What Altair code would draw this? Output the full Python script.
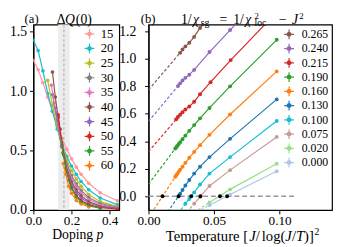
import altair as alt
import pandas as pd

FONT = "Liberation Serif"

# ---------------- Panel (a): Delta Q(0) vs doping p ----------------
SIZES_A = ["15", "20", "25", "30", "35", "40", "45", "50", "55", "60"]
COLORS_A = ["#ff9896", "#17becf", "#bcbd22", "#7f7f7f", "#e377c2",
            "#8c564b", "#9467bd", "#d62728", "#2ca02c", "#ff7f0e"]

P_15 = [0.0, 0.025, 0.05, 0.075, 0.1, 0.125, 0.15, 0.175, 0.2, 0.225, 0.25, 0.29, 0.35, 0.44]
Q_15 = [1.26, 1.18, 1.07, 0.95, 0.83, 0.71, 0.60, 0.51, 0.43, 0.36, 0.30, 0.225, 0.145, 0.077]
P_20 = [0.0, 0.025, 0.05, 0.075, 0.1, 0.125, 0.15, 0.175, 0.2, 0.225, 0.25, 0.29, 0.35, 0.44]
Q_20 = [1.43, 1.34, 1.17, 0.98, 0.83, 0.68, 0.55, 0.45, 0.37, 0.30, 0.24, 0.17, 0.10, 0.045]
P_25 = [0.075, 0.1, 0.125, 0.15, 0.175, 0.2, 0.225, 0.25, 0.29, 0.35, 0.44]
Q_25 = [1.09, 0.88, 0.70, 0.54, 0.42, 0.33, 0.26, 0.20, 0.13, 0.07, 0.03]
P_30 = [0.1, 0.125, 0.15, 0.175, 0.2, 0.225, 0.25, 0.29, 0.35, 0.44]
Q_30 = [0.97, 0.74, 0.53, 0.39, 0.29, 0.22, 0.165, 0.105, 0.055, 0.022]
P_35 = [0.094, 0.11, 0.125, 0.15, 0.175, 0.2, 0.225, 0.25, 0.29, 0.35, 0.44]
Q_35 = [1.05, 0.90, 0.76, 0.53, 0.37, 0.27, 0.20, 0.145, 0.09, 0.045, 0.018]
P_40 = [0.1, 0.115, 0.13, 0.15, 0.175, 0.2, 0.225, 0.25, 0.29, 0.35, 0.44]
Q_40 = [1.16, 0.95, 0.78, 0.54, 0.35, 0.24, 0.17, 0.12, 0.07, 0.033, 0.013]
P_45 = [0.115, 0.13, 0.15, 0.175, 0.2, 0.225, 0.25, 0.29, 0.35, 0.44]
Q_45 = [0.86, 0.72, 0.54, 0.33, 0.22, 0.15, 0.10, 0.058, 0.027, 0.01]
P_50 = [0.13, 0.14, 0.15, 0.16, 0.175, 0.2, 0.225, 0.25, 0.29, 0.35, 0.44]
Q_50 = [0.80, 0.68, 0.57, 0.46, 0.32, 0.19, 0.12, 0.08, 0.045, 0.02, 0.008]
P_55 = [0.145, 0.155, 0.17, 0.185, 0.2, 0.225, 0.25, 0.29, 0.35]
Q_55 = [0.60, 0.48, 0.35, 0.25, 0.18, 0.11, 0.07, 0.035, 0.015]
P_60 = [0.157, 0.17, 0.185, 0.2, 0.225, 0.25, 0.29]
Q_60 = [0.39, 0.30, 0.20, 0.14, 0.08, 0.05, 0.025]

BAND_P = [0.13, 0.19]
CROSS_P = [0.16]

# ---------------- Panel (b): 1/chi_sg vs temperature ----------------
LABELS_B = ["0.265", "0.240", "0.215", "0.190", "0.160",
            "0.130", "0.100", "0.075", "0.020", "0.000"]
COLORS_B = ["#8c564b", "#9467bd", "#d62728", "#2ca02c", "#ff7f0e",
            "#1f77b4", "#17becf", "#c49c94", "#98df8a", "#aec7e8"]

T_265 = [0.0241, 0.0259, 0.0281, 0.0311, 0.0348, 0.0393, 0.0465]
Y_265 = [1.044, 1.068, 1.091, 1.117, 1.16, 1.225, 1.30]
T_240 = [0.0225, 0.0241, 0.0259, 0.0281, 0.0311, 0.0348, 0.0465, 0.0622, 0.0978]
Y_240 = [0.803, 0.822, 0.843, 0.862, 0.885, 0.92, 1.05, 1.21, 1.56]
T_215 = [0.0211, 0.0224, 0.0241, 0.0259, 0.0281, 0.0311, 0.0348, 0.0393, 0.0473, 0.0627, 0.0978]
Y_215 = [0.56, 0.577, 0.593, 0.612, 0.631, 0.653, 0.688, 0.743, 0.83, 0.991, 1.34]
T_190 = [0.0204, 0.0211, 0.0219, 0.0229, 0.0241, 0.0259, 0.0281, 0.0311, 0.0348, 0.0393, 0.0465, 0.0622, 0.0978]
Y_190 = [0.347, 0.356, 0.366, 0.379, 0.394, 0.415, 0.441, 0.476, 0.518, 0.567, 0.643, 0.80, 1.139]
T_160 = [0.0204, 0.0211, 0.0219, 0.0229, 0.0241, 0.0259, 0.0281, 0.0311, 0.0348, 0.0393, 0.0465, 0.0622, 0.0978]
Y_160 = [0.142, 0.152, 0.163, 0.177, 0.193, 0.215, 0.243, 0.28, 0.323, 0.372, 0.447, 0.595, 0.909]
T_130 = [0.0241, 0.0259, 0.0281, 0.0311, 0.0348, 0.0393, 0.0465, 0.0622, 0.0978]
Y_130 = [0.018, 0.045, 0.078, 0.118, 0.165, 0.215, 0.285, 0.418, 0.705]
T_100 = [0.0281, 0.0311, 0.0348, 0.0393, 0.0465, 0.0622, 0.0978]
Y_100 = [-0.055, -0.02, 0.028, 0.085, 0.165, 0.285, 0.548]
T_075 = [0.0348, 0.0393, 0.0465, 0.0622, 0.0978]
Y_075 = [-0.055, -0.004, 0.075, 0.19, 0.432]
T_020 = [0.0465, 0.0622, 0.0978]
Y_020 = [-0.045, 0.05, 0.237]
T_000 = [0.0465, 0.0622, 0.0978]
Y_000 = [-0.065, 0.012, 0.182]

FIT_Y0 = [0.775, 0.546, 0.325, 0.088, -0.156, -0.32, -0.41, -0.44, -0.33, -0.294]
ZERO_T = [0.0107, 0.0229, 0.0326, 0.0396, 0.0545, 0.060]
ZERO_LINE_T = [0.0, 0.113]

# ---------------- data frames ----------------
series_a = [(P_15, Q_15), (P_20, Q_20), (P_25, Q_25), (P_30, Q_30), (P_35, Q_35),
            (P_40, Q_40), (P_45, Q_45), (P_50, Q_50), (P_55, Q_55), (P_60, Q_60)]
rows = []
for lab, (ps, qs) in zip(SIZES_A, series_a):
    for p, q in zip(ps, qs):
        rows.append({"L": lab, "p": p, "q": q})
df_a = pd.DataFrame(rows)

series_b = [(T_265, Y_265), (T_240, Y_240), (T_215, Y_215), (T_190, Y_190), (T_160, Y_160),
            (T_130, Y_130), (T_100, Y_100), (T_075, Y_075), (T_020, Y_020), (T_000, Y_000)]
rows = []
fit_rows = []
for lab, (ts, ys), y0 in zip(LABELS_B, series_b, FIT_Y0):
    for t, y in zip(ts, ys):
        rows.append({"s": lab, "t": t, "y": y})
    fit_rows.append({"s": lab, "t": 0.0, "y": y0})
    fit_rows.append({"s": lab, "t": ts[0], "y": ys[0]})
df_b = pd.DataFrame(rows)
df_fit = pd.DataFrame(fit_rows)
df_zero = pd.DataFrame({"t": ZERO_T, "y": [0.0] * len(ZERO_T)})
df_zline = pd.DataFrame({"t0": [ZERO_LINE_T[0]], "t1": [ZERO_LINE_T[1]], "y": [0.0]})

LEG_PATH = ("M-1,-0.12H1V0.12H-1Z M-0.12,-1H0.12V1H-0.12Z "
            "M0.5,0A0.5,0.5,0,1,1,-0.5,0A0.5,0.5,0,1,1,0.5,0Z")


def txt(s, x, y, size=14, italic=False):
    return alt.Chart(pd.DataFrame({"t": [s]})).mark_text(
        font=FONT, fontSize=size, fontStyle="italic" if italic else "normal",
        align="left", baseline="alphabetic", color="black"
    ).encode(x=alt.value(x), y=alt.value(y), text="t:N")


def legend(lx, ly, fsize, offset, rowpad):
    return alt.Legend(orient="none", legendX=lx, legendY=ly,
                      symbolType=LEG_PATH, symbolSize=100,
                      symbolStrokeWidth=0, symbolOpacity=1,
                      labelFont=FONT, labelFontSize=fsize, labelColor="black",
                      labelOffset=offset, rowPadding=rowpad, padding=0)


# ---------------- panel (a) ----------------
WA, HA = 88, 190
xsa = alt.Scale(domain=[0, 0.45], nice=False, zero=False)
ysa = alt.Scale(domain=[0, 1.56], nice=False, zero=False)
axa_x = alt.Axis(values=[0, 0.2, 0.4], format=".1f", labelFlush=False, labelPadding=0,
                 labelFontSize=13.5, title=None)
axa_y = alt.Axis(values=[0, 0.5, 1.0, 1.5], format=".1f", labelPadding=3, title=None)
leg_a = legend(51, 3, 13, 5, 1)
col_a = alt.Color("L:N", scale=alt.Scale(domain=SIZES_A, range=COLORS_A), title=None, legend=leg_a)

band = alt.Chart(pd.DataFrame({"p0": [BAND_P[0]], "p1": [BAND_P[1]]})).mark_rect(
    color="#ececec").encode(
    x=alt.X("p0:Q", scale=xsa, axis=axa_x), x2="p1:Q",
    y=alt.value(0), y2=alt.value(HA))
cross = alt.Chart(pd.DataFrame({"p": CROSS_P})).mark_rule(
    color="#b5b5b5", strokeDash=[3, 2], strokeWidth=1.2).encode(
    x=alt.X("p:Q", scale=xsa, axis=axa_x))
lines_a = alt.Chart(df_a).mark_line(strokeWidth=1.2, clip=True).encode(
    x=alt.X("p:Q", scale=xsa, axis=axa_x), y=alt.Y("q:Q", scale=ysa, axis=axa_y),
    color=col_a)
pts_a = alt.Chart(df_a).mark_circle(size=14, opacity=1, clip=True).encode(
    x=alt.X("p:Q", scale=xsa, axis=axa_x), y=alt.Y("q:Q", scale=ysa, axis=axa_y),
    color=col_a)

panel_a = alt.layer(
    band, cross, pts_a, lines_a,
    txt("(a)", -9, -1.5, 13),
    txt("Δ", 24, -1, 14), txt("Q", 32.5, -1, 14, True), txt("(0)", 43.5, -1, 14),
    txt("Doping", 19.3, 220, 14), txt("p", 64.8, 220, 14, True),
).properties(width=WA, height=HA)

# ---------------- panel (b) ----------------
WB, HB = 188, 190
xsb = alt.Scale(domain=[0, 0.14], nice=False, zero=False)
ysb = alt.Scale(domain=[-0.1, 1.25], nice=False, zero=False)
axb_x = alt.Axis(values=[0, 0.05, 0.10], format=".2f", labelFlush=False, labelPadding=0,
                 labelFontSize=13.5, title=None)
axb_y = alt.Axis(values=[0, 0.2, 0.4, 0.6, 0.8, 1.0, 1.2], format=".1f", labelPadding=9, title=None)
leg_b = legend(138, 4, 12, 7, 2.6)
col_b = alt.Color("s:N", scale=alt.Scale(domain=LABELS_B, range=COLORS_B), title=None, legend=leg_b)

zline = alt.Chart(df_zline).mark_rule(color="#999999", strokeDash=[5, 3], strokeWidth=1.3).encode(
    x=alt.X("t0:Q", scale=xsb, axis=axb_x), x2="t1:Q",
    y=alt.Y("y:Q", scale=ysb, axis=axb_y))
fits = alt.Chart(df_fit).mark_line(strokeWidth=1.2, strokeDash=[3, 2], clip=True).encode(
    x=alt.X("t:Q", scale=xsb, axis=axb_x), y=alt.Y("y:Q", scale=ysb, axis=axb_y),
    color=col_b)
pts_b = alt.Chart(df_b).mark_circle(size=16, opacity=1, clip=True).encode(
    x=alt.X("t:Q", scale=xsb, axis=axb_x), y=alt.Y("y:Q", scale=ysb, axis=axb_y),
    color=col_b)
lines_b = alt.Chart(df_b).mark_line(strokeWidth=1.2, clip=True).encode(
    x=alt.X("t:Q", scale=xsb, axis=axb_x), y=alt.Y("y:Q", scale=ysb, axis=axb_y),
    color=col_b)
zeros = alt.Chart(df_zero).mark_circle(size=16, opacity=1, color="black").encode(
    x=alt.X("t:Q", scale=xsb, axis=axb_x), y=alt.Y("y:Q", scale=ysb, axis=axb_y))

panel_b = alt.layer(
    zline, pts_b, fits, lines_b, zeros,
    txt("(b)", -8, -1.5, 13),
    txt("1/", 33.3, -1, 14), txt("χ", 45.5, -1, 14, True), txt("sg", 53.5, 2, 10),
    txt("=", 72.7, -1, 14),
    txt("1/", 86.7, -1, 14), txt("χ", 99.0, -1, 14, True),
    txt("2", 108.5, -5.5, 9), txt("loc", 108.5, 2, 10),
    txt("−", 133.5, -1, 14), txt("J", 147, -1, 14, True), txt("2", 154.5, -5.5, 9),
    txt("Temperature [", 17.7, 221.5, 15), txt("J", 103.1, 221.5, 15, True),
    txt("/", 109.8, 221.5, 15), txt("log(", 116, 221.5, 15), txt("J", 140.2, 221.5, 15, True),
    txt("/", 146.9, 221.5, 15), txt("T", 151.1, 221.5, 15, True), txt(")]", 159.4, 221.5, 15),
    txt("2", 170, 215.5, 10),
).properties(width=WB, height=HB)

chart = alt.hconcat(panel_a, panel_b, spacing=30, bounds="flush", padding=0).resolve_scale(
    color="independent", x="independent", y="independent"
).configure_view(stroke="black", strokeWidth=1.2).configure_axis(
    grid=False, labelFont=FONT, labelFontSize=14, labelColor="black",
    domainColor="black", domainWidth=1.2, tickColor="black", tickSize=4, tickWidth=1,
    labelOverlap=False
)

chart.save("out.html", embed_options={"renderer": "svg", "actions": False})
